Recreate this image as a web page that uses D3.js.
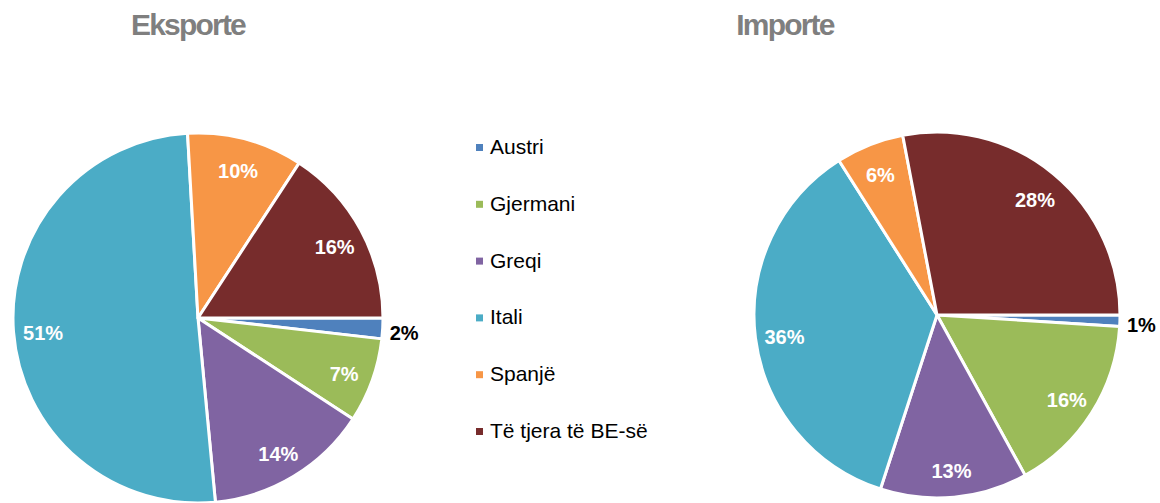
<!DOCTYPE html>
<html>
<head>
<meta charset="utf-8">
<script src="https://cdn.jsdelivr.net/npm/d3@7"></script>
<style>
  html, body { margin: 0; padding: 0; background: #fff; }
  svg { display: block; font-family: "Liberation Sans", Arial, sans-serif; }
</style>
</head>
<body>
<svg id="chart" width="1160" height="503"></svg>
<script>
const categories = ["Austri", "Gjermani", "Greqi", "Itali", "Spanjë", "Të tjera të BE-së"];
const exportValues = [1.8, 7.4, 14.3, 50.6, 10.1, 15.8];
const importValues = [1, 16, 13, 36, 6, 28];
const colors = ["#4F81BD", "#9BBB59", "#8064A2", "#4BACC6", "#F79646", "#772C2C"];
const titles = ["Eksporte", "Importe"];

const svg = d3.select("#chart");

const color = d3.scaleOrdinal().domain(categories).range(colors);
const pct = v => d3.format(".0f")(v) + "%";

const pie = d3.pie()
  .sort(null)
  .value(d => d.value)
  .startAngle(Math.PI / 2)
  .endAngle(Math.PI / 2 + 2 * Math.PI);

function drawPie(values, cx, cy, r, title, titleX) {
  const data = categories.map((c, i) => ({ cat: c, value: values[i] }));
  const arcs = pie(data);
  const arc = d3.arc().innerRadius(0).outerRadius(r);
  const labelArc = d3.arc().innerRadius(r * 0.84).outerRadius(r * 0.84);
  const g = svg.append("g").attr("transform", `translate(${cx},${cy})`);

  g.selectAll("path.slice")
    .data(arcs)
    .join("path")
    .attr("class", "slice")
    .attr("d", arc)
    .attr("fill", d => color(d.data.cat))
    .attr("stroke", "#fff")
    .attr("stroke-width", 3)
    .attr("stroke-linejoin", "round");

  g.selectAll("text.lbl")
    .data(arcs)
    .join("text")
    .attr("class", "lbl")
    .each(function(d) {
      const small = d.data.value < 3;
      const sel = d3.select(this);
      if (small) {
        const a = (d.startAngle + d.endAngle) / 2;
        const rr = r + 7;
        sel.attr("x", Math.sin(a) * rr)
           .attr("y", -Math.cos(a) * rr + 4)
           .attr("text-anchor", "start")
           .attr("fill", "#000");
      } else {
        const [x, y] = labelArc.centroid(d);
        sel.attr("x", x).attr("y", y + 3)
           .attr("text-anchor", "middle")
           .attr("fill", "#fff");
      }
    })
    .attr("dominant-baseline", "central")
    .attr("font-size", 20)
    .attr("font-weight", "bold")
    .text(d => pct(d.data.value));

  svg.append("text")
    .attr("x", titleX)
    .attr("y", 35)
    .attr("text-anchor", "middle")
    .attr("font-size", 30)
    .attr("font-weight", "bold")
    .attr("letter-spacing", "-1.8px")
    .attr("fill", "#7F7F7F")
    .text(title);
}

drawPie(exportValues, 198, 318, 185, titles[0], 188);
drawPie(importValues, 937, 315, 183, titles[1], 785);

// Legend
const legend = svg.append("g").attr("transform", "translate(476,0)");
const ly = d3.scalePoint().domain(categories).range([154, 438]);
const items = legend.selectAll("g.item")
  .data(categories)
  .join("g")
  .attr("class", "item")
  .attr("transform", d => `translate(0,${ly(d)})`);
items.append("rect")
  .attr("x", 0).attr("y", -10)
  .attr("width", 7).attr("height", 7)
  .attr("fill", d => color(d));
items.append("text")
  .attr("x", 14).attr("y", 0)
  .attr("font-size", 21)
  .attr("fill", "#000")
  .text(d => d);
</script>
</body>
</html>
